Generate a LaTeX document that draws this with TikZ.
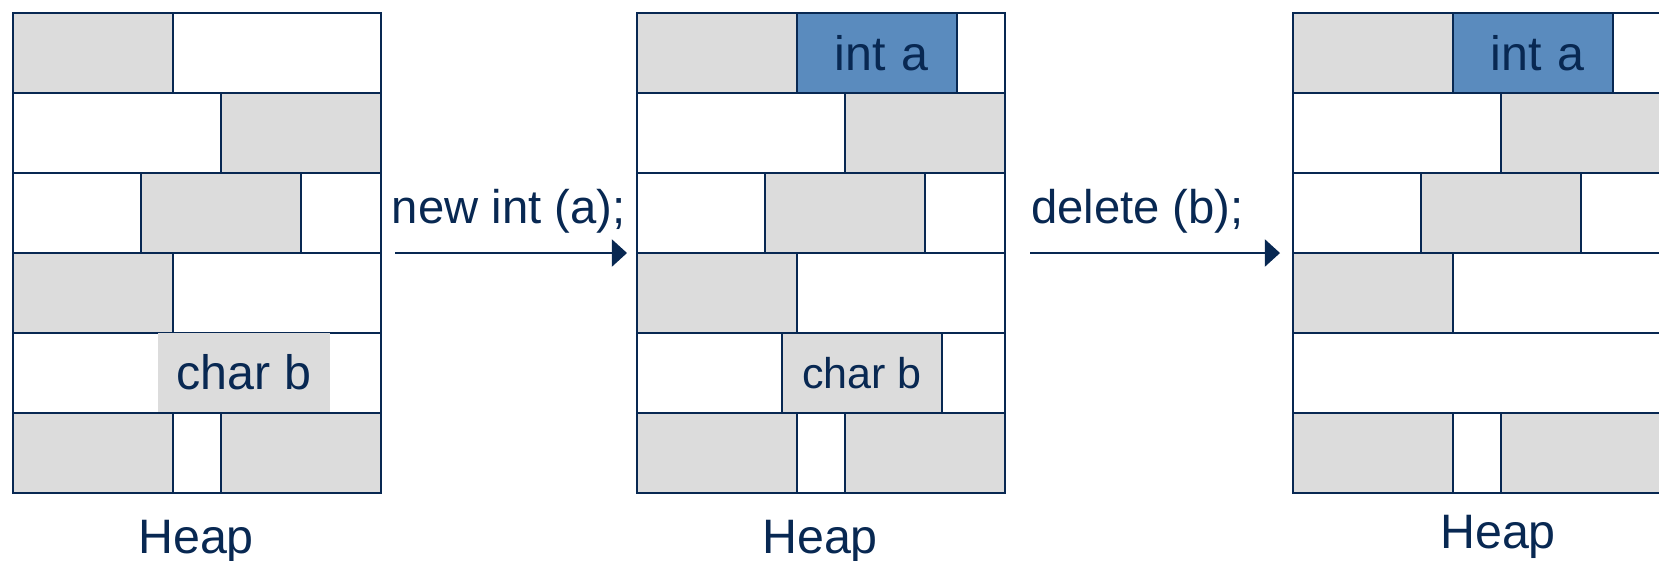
\documentclass[tikz,border=0pt]{standalone}
\usepackage{fontspec}
\setmainfont{Liberation Sans}
\usepackage{tikz}
\usetikzlibrary{arrows.meta,positioning}

\definecolor{navy}{RGB}{8,40,82}
\definecolor{cellgray}{RGB}{220,220,220}
\definecolor{cellblue}{RGB}{90,139,190}

\newcommand{\opfont}{\fontsize{17.2}{20}\selectfont}
\newcommand{\codefont}{\fontsize{16.8}{20}\selectfont}
\newcommand{\smallopfont}{\fontsize{15.3}{18}\selectfont}

\begin{document}
\begin{tikzpicture}[
    rowline/.style={draw=navy, line width=0.8pt},
    cell/.style={draw=navy, line width=0.8pt, fill=cellgray, anchor=north west, inner sep=0pt, outer sep=0pt, minimum height=1cm, font=\opfont, text=navy},
    used/.style={cell, fill=cellblue, inner xsep=0pt, text width=2cm, align=center},
    arr/.style={-{Triangle[length=0.19cm, width=0.34cm]}, draw=navy, line width=0.7pt},
    op/.style={font=\codefont, text=navy, inner sep=0pt, anchor=base west},
    heap/.style={font=\opfont, text=navy, inner sep=0pt, anchor=base}
]
\useasboundingbox (0,0) rectangle (20.7375,-7);
\clip (0,0) rectangle (20.7375,-7);

% heap before the allocation
\begin{scope}[shift={(0.1625,-0.1625)}]
  \foreach \r in {0,...,5}
    \draw[rowline] (0,-\r) rectangle (4.6,-\r-1);
  \node[cell, minimum width=2cm] (l1) at (0,0) {};
  \node[cell, minimum width=2cm] (l2) at (2.6,-1) {};
  \node[cell, minimum width=2cm] (l3) at (1.6,-2) {};
  \node[cell, minimum width=2cm] (l4) at (0,-3) {};
  \node[cell, draw=none, minimum width=2.15cm, minimum height=0.985cm] (lb) at (1.8125,-4) {char b};
  \node[cell, minimum width=2cm] (l6) at (0,-5) {};
  \node[cell, minimum width=2cm] (l7) at (2.6,-5) {};
  \node[heap] (heapl) at (2.2875,-6.75) {Heap};
\end{scope}

% heap after new
\begin{scope}[shift={(7.9625,-0.1625)}]
  \foreach \r in {0,...,5}
    \draw[rowline] (0,-\r) rectangle (4.6,-\r-1);
  \node[cell, minimum width=2cm] (m1) at (0,0) {};
  \node[used] (ma) at (2,0) {\hspace*{0.12cm}int a};
  \node[cell, minimum width=2cm] (m2) at (2.6,-1) {};
  \node[cell, minimum width=2cm] (m3) at (1.6,-2) {};
  \node[cell, minimum width=2cm] (m4) at (0,-3) {};
  \node[cell, minimum width=2cm, font=\smallopfont] (mb) at (1.8125,-4) {char b};
  \node[cell, minimum width=2cm] (m6) at (0,-5) {};
  \node[cell, minimum width=2cm] (m7) at (2.6,-5) {};
  \node[heap] (heapm) at (2.2875,-6.75) {Heap};
\end{scope}

% heap after delete
\begin{scope}[shift={(16.1625,-0.1625)}]
  \foreach \r in {0,...,5}
    \draw[rowline] (0,-\r) rectangle (4.6,-\r-1);
  \node[cell, minimum width=2cm] (r1) at (0,0) {};
  \node[used] (ra) at (2,0) {\hspace*{0.12cm}int a};
  \node[cell, minimum width=2cm] (r2) at (2.6,-1) {};
  \node[cell, minimum width=2cm] (r3) at (1.6,-2) {};
  \node[cell, minimum width=2cm] (r4) at (0,-3) {};
  \node[cell, minimum width=2cm] (r6) at (0,-5) {};
  \node[cell, minimum width=2cm] (r7) at (2.6,-5) {};
  \node[heap] (heapr) at (2.5625,-6.6875) {Heap};
\end{scope}

% operations
\coordinate (s1) at (4.9375,-3.1625);
\coordinate (e1) at (7.8375,-3.1625);
\coordinate (s2) at (12.875,-3.1625);
\coordinate (e2) at (16.0,-3.1625);
\draw[arr] (s1) -- node[op, pos=0, yshift=0.375cm, xshift=-0.05cm] (newop) {new int (a);} (e1);
\draw[arr] (s2) -- node[op, pos=0, yshift=0.375cm] (delop) {delete (b);} (e2);
\end{tikzpicture}
\end{document}
